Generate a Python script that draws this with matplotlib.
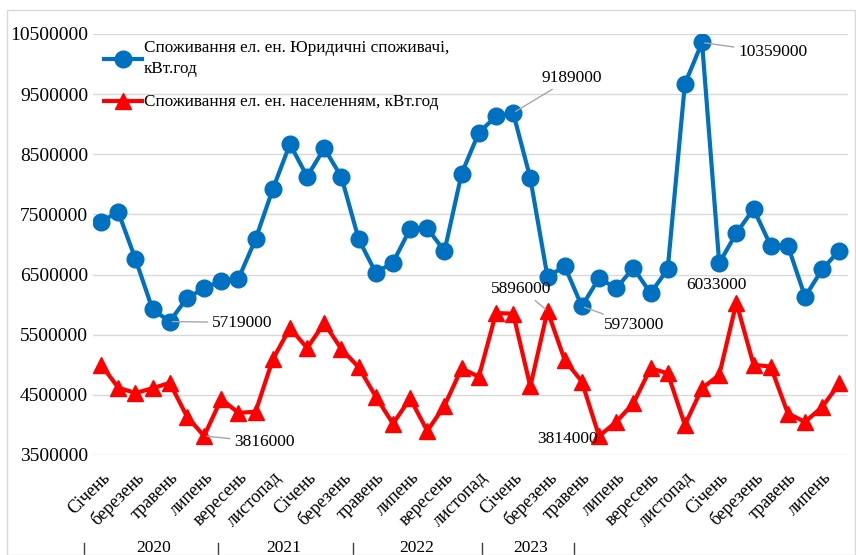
import numpy as np
import matplotlib.pyplot as plt
from matplotlib.patches import Rectangle
from matplotlib.transforms import blended_transform_factory

plt.rcParams['font.family'] = ['Liberation Serif', 'DejaVu Serif']

months = ['Січень', 'лютий', 'березень', 'квітень', 'травень', 'червень',
          'липень', 'серпень', 'вересень', 'жовтень', 'листопад', 'грудень']
years = ['2020', '2021', '2022', '2023']
# Jan 2020 .. Aug 2023
legal = [7380000, 7540000, 6760000, 5920000, 5719000, 6110000, 6270000, 6400000,
         6430000, 7090000, 7920000, 8670000, 8130000, 8600000, 8120000, 7090000,
         6530000, 6700000, 7260000, 7270000, 6890000, 8180000, 8860000, 9130000,
         9189000, 8100000, 6460000, 6640000, 5973000, 6440000, 6270000, 6610000,
         6190000, 6590000, 9670000, 10359000, 6690000, 7190000, 7590000, 6980000,
         6980000, 6130000, 6590000, 6900000]
people = [5000000, 4620000, 4530000, 4610000, 4700000, 4140000, 3816000, 4430000,
          4200000, 4220000, 5090000, 5610000, 5280000, 5690000, 5260000, 4960000,
          4470000, 4020000, 4440000, 3900000, 4320000, 4940000, 4800000, 5860000,
          5850000, 4640000, 5896000, 5080000, 4720000, 3814000, 4050000, 4360000,
          4940000, 4860000, 4000000, 4610000, 4830000, 6033000, 5000000, 4970000,
          4190000, 4050000, 4300000, 4690000]
n = len(legal)
cats = [months[i % 12] for i in range(n)]

# year group label centres / separators (as drawn in the source chart)
year_pos = [3.05, 10.65, 18.4, 25.0]
year_sep = [-1.0, 6.8, 14.65, 22.2, 27.55]

blue = '#0070C0'
red = '#FF0000'

fig = plt.figure(figsize=(8.56, 5.55), dpi=100)
fig.patches.append(Rectangle((7 / 856, 0), 848 / 856, 545 / 555, transform=fig.transFigure,
                             fill=False, edgecolor='#D9D9D9', linewidth=1))
ax = fig.add_axes([93 / 856, 1 - 455 / 555, 755 / 856, 421 / 555])

x = np.arange(n)
ax.plot(x, legal, color=blue, lw=3, marker='o', ms=12,
        label='Споживання ел. ен. Юридичні споживачі,\nкВт.год', zorder=3)
ax.plot(x, people, color=red, lw=3, marker='^', ms=11,
        label='Споживання ел. ен. населенням, кВт.год', zorder=3)

ax.set_xlim(-0.47, n - 0.5)
ax.set_ylim(3500000, 10500000)
ax.set_yticks(np.arange(3500000, 10500001, 1000000))
ax.yaxis.set_major_formatter(plt.FuncFormatter(lambda v, p: f'{int(v)}'))
ax.grid(axis='y', color='#D9D9D9', lw=1)
ax.set_axisbelow(True)
for s in ax.spines.values():
    s.set_visible(False)
ax.tick_params(axis='y', length=0, pad=3.5, labelsize=14)
ax.set_xticks(x[::2])
ax.set_xticklabels(cats[::2], rotation=45, ha='right', rotation_mode='anchor', fontsize=13)
ax.tick_params(axis='x', length=0, pad=10)

tr = blended_transform_factory(ax.transData, fig.transFigure)
for p, yr in zip(year_pos, years):
    ax.text(p, 1 - 548 / 555, yr, transform=tr, ha='center', va='center', fontsize=12.5)
for s in year_sep:
    ax.plot([s, s], [1 - 543 / 555, 0], transform=tr, color='#404040', lw=1, clip_on=False)

lead = dict(arrowstyle='-', color='#A6A6A6', lw=1, shrinkA=1, shrinkB=2)


def label(i, series, dx, dy, ha='left', leader=True):
    ax.annotate(f'{series[i]}', (i, series[i]), xytext=(dx, dy), textcoords='offset pixels',
                ha=ha, va='center', fontsize=12.5, zorder=5,
                arrowprops=lead if leader else None)


label(4, legal, 42, -1)
label(6, people, 30, -6)
label(24, legal, 28, 35)
label(35, legal, 36, -10)
label(26, people, -26, 22, ha='center')
label(28, legal, 22, -19)
label(29, people, -1, -3, ha='right', leader=False)
label(37, people, -20, 18, ha='center', leader=False)

leg = ax.legend(loc='upper left', bbox_to_anchor=(104 / 856, 1 - 40 / 555),
                bbox_transform=fig.transFigure, frameon=False, fontsize=12.3,
                handlelength=2.2, handletextpad=0.15, labelspacing=1.0, borderpad=0,
                borderaxespad=0)
for t in leg.get_texts():
    t.set_linespacing(1.45)

fig.savefig('out.png', dpi=100)
